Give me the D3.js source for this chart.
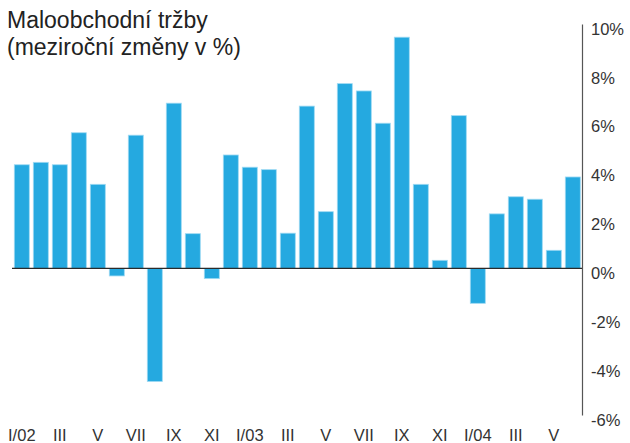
<!DOCTYPE html>
<html>
<head>
<meta charset="utf-8">
<script src="https://cdn.jsdelivr.net/npm/d3@7"></script>
<style>
  html, body { margin: 0; padding: 0; background: #fff; }
  svg { display: block; }
  text { font-family: "Liberation Sans", Arial, Helvetica, sans-serif; }
</style>
</head>
<body>
<svg id="chart" width="630" height="443"></svg>
<script>
// Monthly categories, January 2002 – June 2004
const months = [
  "I/02","II","III","IV","V","VI","VII","VIII","IX","X","XI","XII",
  "I/03","II","III","IV","V","VI","VII","VIII","IX","X","XI","XII",
  "I/04","II","III","IV","V","VI"
];
// Year-on-year change of retail sales, %
const values = [
  4.24, 4.34, 4.24, 5.55, 3.44, -0.31, 5.45, -4.63, 6.76, 1.42, -0.42, 4.64,
  4.14, 4.04, 1.44, 6.64, 2.32, 7.56, 7.26, 5.94, 9.46, 3.44, 0.33, 6.25,
  -1.43, 2.23, 2.93, 2.83, 0.74, 3.74
];
// Labelled months on the category axis (every second month)
const monthLabels = ["I/02","III","V","VII","IX","XI","I/03","III","V","VII","IX","XI","I/04","III","V"];
const yTicks = [10, 8, 6, 4, 2, 0, -2, -4, -6];
const titleLines = ["Maloobchodní tržby", "(meziroční změny v %)"];

const svg = d3.select("#chart");

const x = d3.scaleBand()
  .domain(d3.range(months.length))
  .range([12.3, 582.3])
  .paddingInner(0.21)
  .paddingOuter(0.105);

const y = d3.scaleLinear().domain([-6, 10]).range([415, 24]);

// Bars
svg.append("g")
  .selectAll("rect")
  .data(values)
  .join("rect")
  .attr("x", (d, i) => x(i))
  .attr("width", x.bandwidth())
  .attr("y", d => y(Math.max(0, d)))
  .attr("height", d => Math.abs(y(d) - y(0)))
  .attr("fill", "#25a9e0")
  .attr("stroke", "#9fdaf3")
  .attr("stroke-width", 0.8);

// Zero line
svg.append("line")
  .attr("x1", 12).attr("x2", 582)
  .attr("y1", y(0)).attr("y2", y(0))
  .attr("stroke", "#2a2a2a").attr("stroke-width", 1.2);

// Right value axis
const yAxis = d3.axisRight(y)
  .tickValues(yTicks)
  .tickSize(0)
  .tickPadding(9)
  .tickFormat(d => d + "%");

const ga = svg.append("g")
  .attr("transform", "translate(582,0)")
  .call(yAxis);
ga.select(".domain").attr("stroke", "#555").attr("stroke-width", 1.2);
ga.selectAll("text")
  .attr("fill", "#333")
  .attr("font-size", 16.5)
  .attr("dy", "0.62em");

// Month labels
const labelIdx = d3.range(0, months.length, 2);
svg.append("g")
  .selectAll("text")
  .data(labelIdx)
  .join("text")
  .attr("x", i => x(i) + x.bandwidth() / 2)
  .attr("y", 441)
  .attr("text-anchor", "middle")
  .attr("font-size", 16.5)
  .attr("fill", "#333")
  .text((i, k) => monthLabels[k]);

// Title
svg.append("g")
  .selectAll("text")
  .data(titleLines)
  .join("text")
  .attr("x", 7)
  .attr("y", (d, i) => 28 + i * 27)
  .attr("font-size", 23)
  .attr("fill", "#222")
  .text(d => d);
</script>
</body>
</html>
